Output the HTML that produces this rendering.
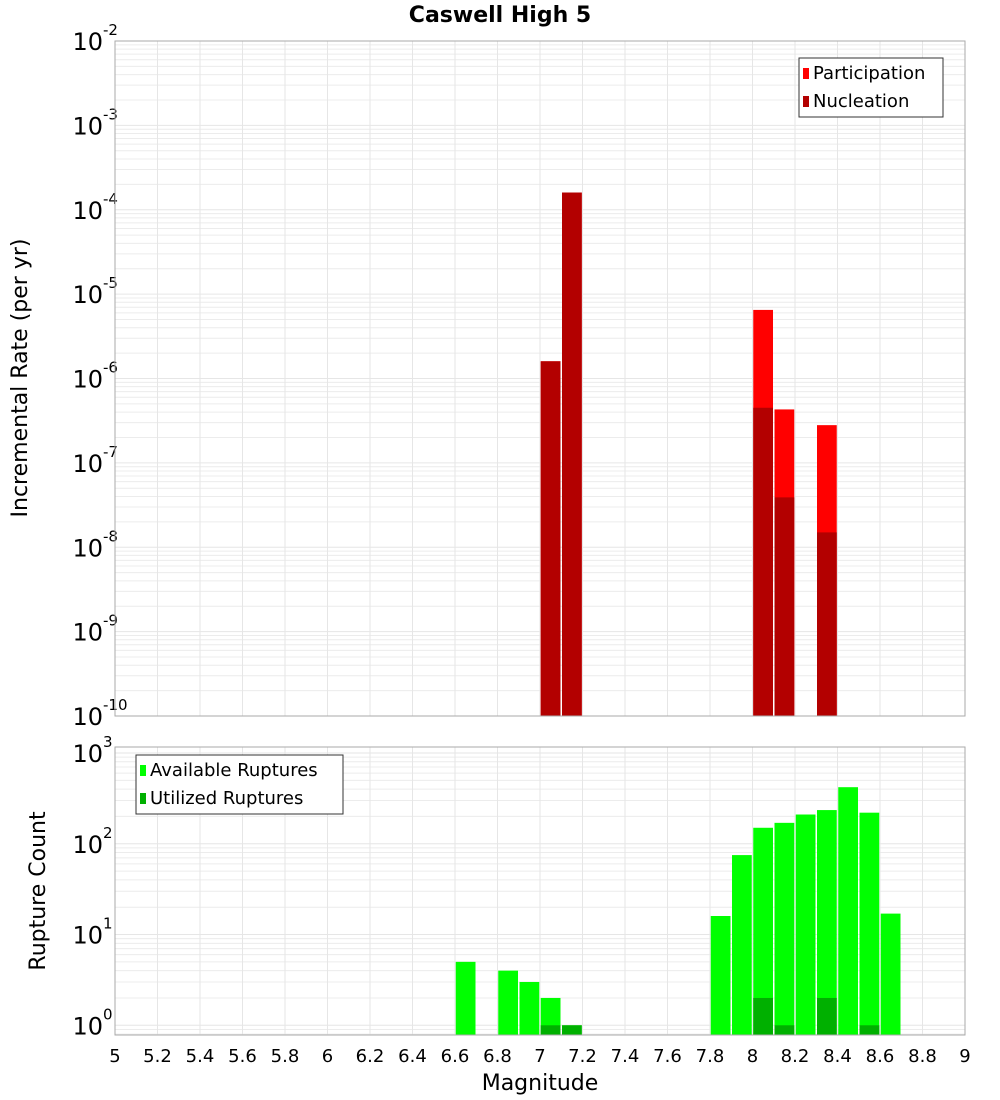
<!DOCTYPE html>
<html><head><meta charset="utf-8"><style>
body{margin:0;background:#fff;width:1000px;height:1100px;overflow:hidden}
svg{display:block;font-family:"DejaVu Sans","Liberation Sans",sans-serif}
</style></head><body>
<svg id="chart" width="1000" height="1100" xmlns="http://www.w3.org/2000/svg">
<text x="500" y="22" text-anchor="middle" font-size="22" font-weight="bold">Caswell High 5</text>
<text transform="translate(27,378) rotate(-90)" text-anchor="middle" font-size="22">Incremental Rate (per yr)</text>
<text transform="translate(45,891) rotate(-90)" text-anchor="middle" font-size="22">Rupture Count</text>
<text x="540" y="1090" text-anchor="middle" font-size="22">Magnitude</text>
<g id="topPanel"></g><g id="botPanel"></g>
</svg>
<script>
const rateMags=[7.05,7.15,8.05,8.15,8.35];
const participation=[1.6e-6,1.6e-4,6.5e-6,4.3e-7,2.8e-7];
const nucleation=[1.6e-6,1.6e-4,4.5e-7,3.9e-8,1.5e-8];
const countMags=[6.65,6.85,6.95,7.05,7.15,7.85,7.95,8.05,8.15,8.25,8.35,8.45,8.55,8.65];
const available=[5,4,3,2,1,16,75,150,170,210,235,420,220,17];
const utilized=[0,0,0,1,1,0,0,2,1,0,2,0,1,0];
const xTicks=[5,5.2,5.4,5.6,5.8,6,6.2,6.4,6.6,6.8,7,7.2,7.4,7.6,7.8,8,8.2,8.4,8.6,8.8,9];
const topExps=[-10,-9,-8,-7,-6,-5,-4,-3,-2];
const botExps=[0,1,2,3];

const NS="http://www.w3.org/2000/svg";
const X0=115,X1=965;
function xs(m){return X0+(m-5)/4*(X1-X0);}
function mk(p,t,a){const e=document.createElementNS(NS,t);for(const k in a)e.setAttribute(k,a[k]);p.appendChild(e);return e;}
function panel(g,Y0,Y1,lmin,lmax,exps,name){
  const y=v=>Y1-(Math.log10(v)-lmin)/(lmax-lmin)*(Y1-Y0);
  const grid=mk(g,'g',{});
  
  
  for(let d=Math.floor(lmin);d<Math.ceil(lmax);d++)for(let k=1;k<10;k++){
    const v=k*Math.pow(10,d);const lv=Math.log10(v);
    if(lv<lmin||lv>lmax)continue;
    mk(grid,'line',{x1:X0,x2:X1,y1:y(v),y2:y(v),stroke:k==1?'#e6e6e6':'#ececec','stroke-width':1});
  }
  xTicks.forEach(t=>mk(grid,'line',{x1:xs(t),x2:xs(t),y1:Y0,y2:Y1,stroke:'#e6e6e6','stroke-width':1}));
  exps.forEach(e=>{
    const t=mk(g,'text',{x:103,y:y(Math.pow(10,e))+9,'text-anchor':'end','font-size':24});
    
    
    t.textContent='10';
    const s=mk(g,'text',{x:103,y:y(Math.pow(10,e))-6,'font-size':15});
    
    
    s.textContent=String(e);
  });
  return y;
}
const topG=document.getElementById('topPanel'),botG=document.getElementById('botPanel');
const yT=panel(topG,41,716,-10,-2,topExps,'top');
const bw=xs(5.1)-xs(5)-1.5;
rateMags.forEach((m,i)=>{
  const r=mk(topG,'rect',{x:xs(m)-bw/2,y:yT(participation[i]),width:bw,height:716-yT(participation[i]),fill:'#ff0000'});
  
  
  const n=mk(topG,'rect',{x:xs(m)-bw/2,y:yT(nucleation[i]),width:bw,height:716-yT(nucleation[i]),fill:'#b30000'});
  
  
});
mk(topG,'rect',{x:X0,y:41,width:X1-X0,height:675,fill:'none',stroke:'#aaa'});
const yB=panel(botG,747,1035,-0.107,3.066,botExps,'bottom');
countMags.forEach((m,i)=>{
  const r=mk(botG,'rect',{x:xs(m)-bw/2,y:yB(available[i]),width:bw,height:1035-yB(available[i]),fill:'#00ff00'});
  
  
  if(utilized[i]>0){
    const u=mk(botG,'rect',{x:xs(m)-bw/2,y:yB(utilized[i]),width:bw,height:1035-yB(utilized[i]),fill:'#00b000'});
    
    
  }
});
mk(botG,'rect',{x:X0,y:747,width:X1-X0,height:288,fill:'none',stroke:'#aaa'});
xTicks.forEach(t=>{
  const l=mk(botG,'text',{x:xs(t),y:1062,'text-anchor':'middle','font-size':18});
  
  
  l.textContent=String(t);
});
function legend(g,lx,ly,lw,items){
  const b=mk(g,'g',{});
  
  
  mk(b,'rect',{x:lx,y:ly,width:lw,height:59,fill:'#fff',stroke:'#333'});
  items.forEach((it,i)=>{
    mk(b,'rect',{x:lx+4,y:ly+10+i*28,width:6,height:11,fill:it[1]});
    const t=mk(b,'text',{x:lx+14,y:ly+21+i*28,'font-size':18});
    
    
    t.textContent=it[0];
  });
}
legend(topG,799,58,144,[['Participation','#ff0000'],['Nucleation','#b30000']]);
legend(botG,136,755,207,[['Available Ruptures','#00ff00'],['Utilized Ruptures','#00b000']]);
</script>
</body></html>
